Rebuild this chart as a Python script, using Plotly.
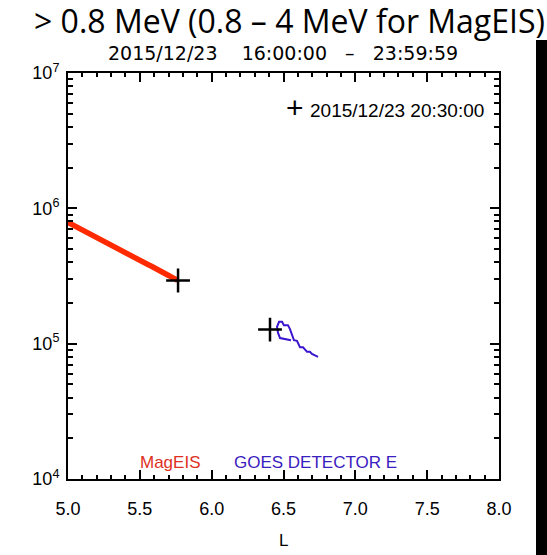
import plotly.graph_objects as go

# MagEIS (0.8-4 MeV) flux vs L
mageis_L = [5.0 + 0.0125 * i for i in range(62)]
mageis_flux_e5 = [7.87, 7.74, 7.63, 7.49, 7.39, 7.25, 7.15, 7.02, 6.93, 6.80,
                  6.71, 6.58, 6.50, 6.37, 6.29, 6.17, 6.09, 5.97, 5.90, 5.78,
                  5.71, 5.60, 5.53, 5.43, 5.36, 5.25, 5.19, 5.09, 5.03, 4.97,
                  4.87, 4.81, 4.71, 4.63, 4.56, 4.47, 4.42, 4.33, 4.28, 4.19,
                  4.14, 4.06, 4.01, 3.93, 3.88, 3.81, 3.76, 3.69, 3.64, 3.57,
                  3.53, 3.46, 3.41, 3.35, 3.30, 3.24, 3.19, 3.14, 3.09, 3.04,
                  3.00, 2.93]
mageis_flux = [v * 1e5 for v in mageis_flux_e5]

# GOES detector E (>0.8 MeV)
goes_L = [6.552, 6.510, 6.476, 6.462, 6.455, 6.469, 6.490, 6.503, 6.531, 6.545,
          6.559, 6.573, 6.594, 6.608, 6.615, 6.636, 6.650, 6.664, 6.684, 6.698,
          6.719, 6.740]
goes_flux_e5 = [1.06, 1.08, 1.10, 1.20, 1.33, 1.45, 1.45, 1.37, 1.37, 1.28,
                1.18, 1.06, 1.05, 0.99, 0.94, 0.94, 0.90, 0.87, 0.87, 0.84,
                0.82, 0.80]
goes_flux = [v * 1e5 for v in goes_flux_e5]

# markers at 2015/12/23 20:30:00
mark_L = [5.766, 6.406]
mark_flux = [2.93e5, 1.27e5]

ytick_vals = [1e4, 1e5, 1e6, 1e7]
ytick_text = ["10<sup>4</sup>", "10<sup>5</sup>", "10<sup>6</sup>", "10<sup>7</sup>"]
ytick_minor = [m * 10 ** e for e in (4, 5, 6) for m in range(2, 10)]
xtick_vals = [5.0, 5.5, 6.0, 6.5, 7.0, 7.5, 8.0]
xtick_text = ["5.0", "5.5", "6.0", "6.5", "7.0", "7.5", "8.0"]
xtick_minor = [round(5.0 + 0.1 * i, 1) for i in range(31)]

RED = "#ff2a00"
BLUE = "#3a14d0"
FONT = "Liberation Sans"

fig = go.Figure()
fig.add_trace(go.Scatter(x=mageis_L, y=mageis_flux, mode="lines",
                         line=dict(color=RED, width=5.5), showlegend=False))
fig.add_trace(go.Scatter(x=goes_L, y=goes_flux, mode="lines",
                         line=dict(color=BLUE, width=2), showlegend=False))
fig.add_trace(go.Scatter(x=mark_L, y=mark_flux, mode="markers",
                         marker=dict(symbol="cross-thin", size=17, color="black",
                                     line=dict(color="black", width=2.5)),
                         showlegend=False))
# invisible traces that activate the extra tick axes (top/right, minor)
for xa, ya in (("x2", "y2"), ("x3", "y3"), ("x4", "y4")):
    fig.add_trace(go.Scatter(x=mark_L, y=mark_flux, mode="markers", xaxis=xa, yaxis=ya,
                             marker=dict(opacity=0), hoverinfo="skip", showlegend=False))

W, H = 547, 555
L_M, R_M, T_M, B_M = 68, 48, 73, 76
pw, ph = W - L_M - R_M, H - T_M - B_M


def px(x):
    return (x - L_M) / pw


def py(y):
    return (H - B_M - y) / ph


annotations = [
    dict(text="> 0.8 MeV (0.8 – 4 MeV for MagEIS)", x=px(289), y=py(21),
         font=dict(family="Open Sans", size=32, color="black")),
    dict(text="2015/12/23    16:00:00   –   23:59:59", x=px(283), y=py(53),
         font=dict(family="DejaVu Sans", size=19, color="black")),
    dict(text="+", x=px(295), y=py(108),
         font=dict(family=FONT, size=30, color="black")),
    dict(text="2015/12/23 20:30:00", x=px(397), y=py(110),
         font=dict(family=FONT, size=19, color="black")),
    dict(text="MagEIS", x=px(170), y=py(462),
         font=dict(family=FONT, size=17, color="#e0301e")),
    dict(text="GOES DETECTOR E", x=px(315), y=py(462),
         font=dict(family=FONT, size=17, color="#3b20c0")),
    dict(text="L", x=px(283), y=py(540),
         font=dict(family=FONT, size=17, color="black")),
]
for a in annotations:
    a.update(xref="paper", yref="paper", showarrow=False,
             xanchor="center", yanchor="middle")


def xax(vals, tlen, line, **kw):
    return dict(range=[5.0, 8.0], tickmode="array", tickvals=vals,
                ticks="inside", ticklen=tlen, tickwidth=2, tickcolor="black",
                showline=line, linecolor="black", linewidth=2,
                showgrid=False, zeroline=False, **kw)


def yax(vals, tlen, line, **kw):
    return dict(type="log", range=[4, 7], tickmode="array", tickvals=vals,
                ticks="inside", ticklen=tlen, tickwidth=2, tickcolor="black",
                showline=line, linecolor="black", linewidth=2,
                showgrid=False, zeroline=False, **kw)


fig.update_layout(
    width=W, height=H,
    margin=dict(l=L_M, r=R_M, t=T_M, b=B_M),
    paper_bgcolor="white", plot_bgcolor="white",
    annotations=annotations,
    shapes=[dict(type="rect", xref="paper", yref="paper",
                 x0=px(536), x1=px(600), y0=py(40), y1=py(600),
                 fillcolor="black", line=dict(width=0), layer="above")],
    xaxis=xax(xtick_vals, 9, True, ticktext=xtick_text, side="bottom",
              ticklabelstandoff=12,
              tickfont=dict(family=FONT, size=18, color="black")),
    yaxis=yax(ytick_vals, 9, True, ticktext=ytick_text, side="left",
              ticklabelstandoff=3,
              tickfont=dict(family=FONT, size=18, color="black")),
    xaxis2=xax(xtick_vals, 9, True, overlaying="x", side="top", anchor="y2",
               showticklabels=False),
    yaxis2=yax(ytick_vals, 9, True, overlaying="y", side="right", anchor="x2",
               showticklabels=False),
    xaxis3=xax(xtick_minor, 4, False, overlaying="x", side="bottom", anchor="y3",
               showticklabels=False),
    yaxis3=yax(ytick_minor, 5, False, overlaying="y", side="left", anchor="x3",
               showticklabels=False),
    xaxis4=xax(xtick_minor, 4, False, overlaying="x", side="top", anchor="y4",
               showticklabels=False),
    yaxis4=yax(ytick_minor, 5, False, overlaying="y", side="right", anchor="x4",
               showticklabels=False),
)

fig.write_html("out.html")
